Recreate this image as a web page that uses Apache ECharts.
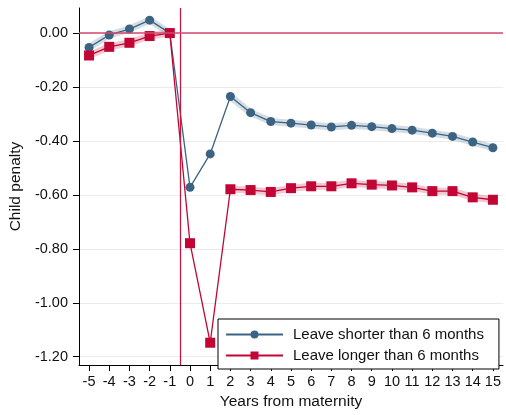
<!DOCTYPE html>
<html>
<head>
<meta charset="utf-8">
<script src="https://cdn.jsdelivr.net/npm/echarts@6/dist/echarts.min.js"></script>
<style>
  html, body { margin: 0; padding: 0; background: #fff; }
  #chart { width: 506px; height: 415px; }
</style>
</head>
<body>
<div id="chart"></div>
<script>
const years = [-5, -4, -3, -2, -1, 0, 1, 2, 3, 4, 5, 6, 7, 8, 9, 10, 11, 12, 13, 14, 15];
const shorter = [-0.053, -0.007, 0.015, 0.048, 0, -0.572, -0.448, -0.235, -0.295, -0.328, -0.334,
  -0.341, -0.348, -0.342, -0.347, -0.354, -0.360, -0.371, -0.383, -0.404, -0.425];
const longer = [-0.083, -0.051, -0.036, -0.011, 0, -0.779, -1.148, -0.579, -0.582, -0.589, -0.575,
  -0.568, -0.568, -0.557, -0.562, -0.565, -0.572, -0.586, -0.586, -0.609, -0.618];
const yTicks = [0, -0.2, -0.4, -0.6, -0.8, -1.0, -1.2];
const noBandYears = [0, 1];
const shorterName = 'Leave shorter than 6 months';
const longerName = 'Leave longer than 6 months';

const blue = '#3c6482';
const red = '#c10534';
const font = "'Liberation Sans', Arial, sans-serif";

const pairs = arr => years.map((yr, i) => [yr, arr[i]]);
const bandPairs = arr => years.map((yr, i) => [yr, noBandYears.includes(yr) ? null : arr[i]]);

function bandSeries(arr, color) {
  return {
    type: 'line',
    data: bandPairs(arr),
    symbol: 'none',
    silent: true,
    z: 1,
    lineStyle: { color, width: 7, opacity: 0.22 },
    connectNulls: false,
  };
}

const chart = echarts.init(document.getElementById('chart'), null, { renderer: 'canvas' });
chart.setOption({
  animation: false,
  textStyle: { fontFamily: font },
  grid: { left: 77, right: 3, top: 8, bottom: 41 },
  legend: {
    data: [shorterName, longerName],
    orient: 'vertical',
    left: 218,
    top: 319,
    padding: [8, 15, 6, 7],
    backgroundColor: '#fff',
    borderColor: '#000',
    borderWidth: 1,
    borderRadius: 0,
    itemWidth: 57,
    itemHeight: 10,
    itemGap: 6,
    textStyle: { fontSize: 15, color: '#111', fontFamily: font, padding: [0, 0, 0, 5], lineHeight: 15 },
  },
  xAxis: {
    type: 'value',
    min: -5.5,
    max: 15.5,
    name: 'Years from maternity',
    nameLocation: 'middle',
    nameGap: 26,
    nameTextStyle: { fontSize: 15.5, color: '#111', fontFamily: font },
    axisLine: { onZero: false, lineStyle: { color: '#000', width: 1 } },
    axisTick: { customValues: years, length: 6, lineStyle: { color: '#000' } },
    axisLabel: { customValues: years, fontSize: 14.5, color: '#111', margin: 9, fontFamily: font },
    splitLine: { show: false },
  },
  yAxis: {
    type: 'value',
    min: -1.231,
    max: 0.093,
    name: 'Child penalty',
    nameLocation: 'middle',
    nameGap: 53,
    nameTextStyle: { fontSize: 15.5, color: '#111', fontFamily: font },
    axisLine: { show: true, onZero: false, lineStyle: { color: '#000', width: 1 } },
    axisTick: { show: true, customValues: yTicks, length: 6, lineStyle: { color: '#000' } },
    axisLabel: {
      customValues: yTicks, fontSize: 14.5, color: '#111', margin: 11, fontFamily: font,
      formatter: v => v.toFixed(2),
    },
    splitLine: { show: true, lineStyle: { color: '#ebebeb', width: 1 } },
  },
  series: [
    bandSeries(shorter, blue),
    bandSeries(longer, red),
    {
      type: 'line',
      data: [],
      silent: true,
      z: 2,
      markLine: {
        silent: true,
        symbol: 'none',
        label: { show: false },
        data: [
          { xAxis: -0.5, lineStyle: { color: '#c41b45', width: 1.3, type: 'solid' } },
          { yAxis: 0, lineStyle: { color: '#d4496f', width: 1.6, type: 'solid' } },
        ],
      },
    },
    {
      name: shorterName,
      type: 'line',
      data: pairs(shorter),
      symbol: 'circle',
      symbolSize: 9,
      z: 3,
      itemStyle: { color: blue },
      lineStyle: { color: blue, width: 1.3 },
    },
    {
      name: longerName,
      type: 'line',
      data: pairs(longer),
      symbol: 'rect',
      symbolSize: 10,
      z: 4,
      itemStyle: { color: red },
      lineStyle: { color: red, width: 1.3 },
    },
  ],
});
</script>
</body>
</html>
